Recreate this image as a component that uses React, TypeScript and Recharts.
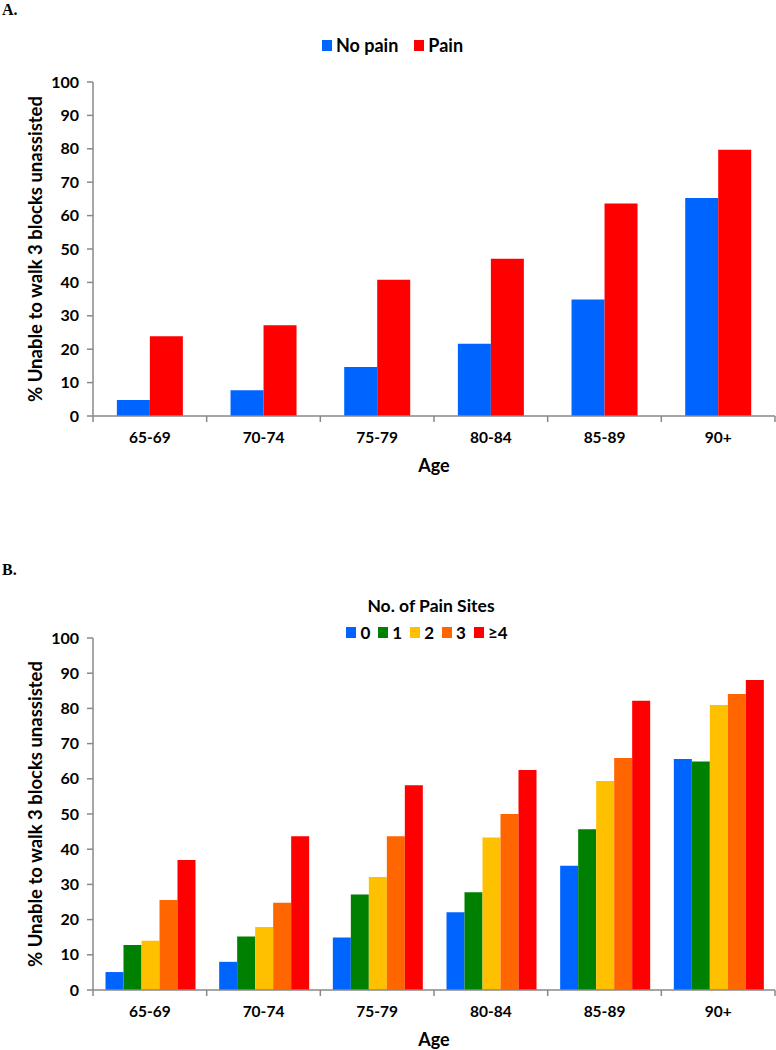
import React from "react";
import { BarChart, Bar, XAxis, YAxis, Legend } from "recharts";

// ── Data ────────────────────────────────────────────────────────────
const AGES = ["65-69", "70-74", "75-79", "80-84", "85-89", "90+"];
const Y_TICKS = [0, 10, 20, 30, 40, 50, 60, 70, 80, 90, 100];

// Panel A
const NO_PAIN = [4.8, 7.7, 14.7, 21.6, 34.9, 65.3];
const PAIN = [23.9, 27.2, 40.8, 47.1, 63.6, 79.7];

// Panel B – number of pain sites
const SITES_0 = [5.1, 8.0, 14.9, 22.1, 35.3, 65.6];
const SITES_1 = [12.8, 15.2, 27.1, 27.8, 45.7, 64.9];
const SITES_2 = [14.0, 17.9, 32.1, 43.3, 59.4, 81.0];
const SITES_3 = [25.6, 24.8, 43.7, 50.0, 65.9, 84.1];
const SITES_4 = [36.9, 43.7, 58.2, 62.5, 82.2, 88.1];

const BLUE = "#0064ff";
const RED = "#ff0000";
const GREEN = "#008000";
const YELLOW = "#ffc000";
const ORANGE = "#ff6600";

const FONT = "Lato, 'Open Sans', sans-serif";
const AXIS_GREY = "#888888";
const Y_LABEL = "% Unable to walk 3 blocks unassisted";

const dataA = AGES.map((age, i) => ({ age, noPain: NO_PAIN[i], pain: PAIN[i] }));
const dataB = AGES.map((age, i) => ({
  age,
  s0: SITES_0[i],
  s1: SITES_1[i],
  s2: SITES_2[i],
  s3: SITES_3[i],
  s4: SITES_4[i],
}));

// layout shared by both panels
const WIDTH = 776;
const MARGIN_LEFT = -23;
const Y_AXIS_W = 116;
const MARGIN_RIGHT = 1;
const BAND = (WIDTH - MARGIN_LEFT - Y_AXIS_W - MARGIN_RIGHT) / AGES.length;

// Category tick: label at the band centre, tick marks at band edges (Excel style)
function AgeTick(props: any) {
  const { x, y, payload, index } = props;
  const last = index === AGES.length - 1;
  return (
    <g>
      <line x1={x - BAND / 2} x2={x - BAND / 2} y1={y} y2={y + 6} stroke={AXIS_GREY} strokeWidth={1.5} />
      {last && (
        <line x1={x + BAND / 2} x2={x + BAND / 2} y1={y} y2={y + 6} stroke={AXIS_GREY} strokeWidth={1.5} />
      )}
      <text x={x} y={y + 27} textAnchor="middle" fill="#000" fontFamily={FONT} fontWeight={700} fontSize={15.5}>
        {payload.value}
      </text>
    </g>
  );
}

const yTick = { fill: "#000", fontFamily: FONT, fontWeight: 700, fontSize: 16 };
const yLabel = {
  value: Y_LABEL,
  angle: -90,
  position: "center" as const,
  fill: "#000",
  fontFamily: FONT,
  fontWeight: 700,
  fontSize: 18.5,
};
const ageLabel = {
  value: "Age",
  position: "insideBottom" as const,
  offset: 4,
  fill: "#000",
  fontFamily: FONT,
  fontWeight: 700,
  fontSize: 18,
};

function swatchRow(payload: any[], size: number, gap: number, fontSize: number) {
  return (
    <div style={{ display: "flex", justifyContent: "center", alignItems: "center" }}>
      {payload.map((p: any) => (
        <span key={p.value} style={{ display: "inline-flex", alignItems: "center", marginRight: gap }}>
          <span style={{ width: size, height: size + 1, background: p.color, display: "inline-block", marginRight: 4 }} />
          <span style={{ fontSize, fontWeight: 700, color: "#000", fontFamily: FONT }}>{p.value}</span>
        </span>
      ))}
    </div>
  );
}

function LegendA(props: any) {
  return <div style={{ height: 24 }}>{swatchRow(props.payload || [], 10, 16, 18)}</div>;
}

function LegendB(props: any) {
  return (
    <div style={{ textAlign: "center", fontFamily: FONT }}>
      <div style={{ fontSize: 17.5, fontWeight: 700, color: "#000", lineHeight: "20px", marginBottom: 6 }}>
        No. of Pain Sites
      </div>
      {swatchRow(props.payload || [], 10, 8, 17)}
    </div>
  );
}

export default function App() {
  return (
    <div style={{ position: "absolute", left: 0, top: 0, width: WIDTH, height: 1050, background: "#fff" }}>
      <div style={{ position: "absolute", left: 2, top: 1, fontFamily: "'Liberation Serif', serif", fontWeight: 700, fontSize: 16 }}>
        A.
      </div>
      <div style={{ position: "absolute", left: 2, top: 561, fontFamily: "'Liberation Serif', serif", fontWeight: 700, fontSize: 16 }}>
        B.
      </div>

      {/* Panel A */}
      <div style={{ position: "absolute", left: 0, top: 0 }}>
        <BarChart
          width={WIDTH}
          height={500}
          data={dataA}
          margin={{ top: 82, right: MARGIN_RIGHT, bottom: 24, left: MARGIN_LEFT }}
          barCategoryGap="21%"
          barGap={0}
        >
          <XAxis
            dataKey="age"
            height={60}
            tickLine={false}
            tickSize={0}
            tickMargin={0}
            interval={0}
            tick={<AgeTick />}
            axisLine={{ stroke: AXIS_GREY, strokeWidth: 1.5 }}
            label={ageLabel}
          />
          <YAxis
            width={Y_AXIS_W}
            domain={[0, 100]}
            ticks={Y_TICKS}
            interval={0}
            tickSize={6}
            tickMargin={8}
            tick={yTick}
            tickLine={{ stroke: AXIS_GREY, strokeWidth: 1.5 }}
            axisLine={{ stroke: AXIS_GREY, strokeWidth: 1.5 }}
            label={yLabel}
          />
          <Legend
            layout="horizontal"
            verticalAlign="middle"
            align="center"
            content={<LegendA />}
            wrapperStyle={{ top: 34, left: 25, width: 751 }}
          />
          <Bar dataKey="noPain" name="No pain" fill={BLUE} isAnimationActive={false} />
          <Bar dataKey="pain" name="Pain" fill={RED} isAnimationActive={false} />
        </BarChart>
      </div>

      {/* Panel B */}
      <div style={{ position: "absolute", left: 0, top: 500 }}>
        <BarChart
          width={WIDTH}
          height={550}
          data={dataB}
          margin={{ top: 138, right: MARGIN_RIGHT, bottom: 0, left: MARGIN_LEFT }}
          barCategoryGap="11%"
          barGap={0}
        >
          <XAxis
            dataKey="age"
            height={60}
            tickLine={false}
            tickSize={0}
            tickMargin={0}
            interval={0}
            tick={<AgeTick />}
            axisLine={{ stroke: AXIS_GREY, strokeWidth: 1.5 }}
            label={ageLabel}
          />
          <YAxis
            width={Y_AXIS_W}
            domain={[0, 100]}
            ticks={Y_TICKS}
            interval={0}
            tickSize={6}
            tickMargin={8}
            tick={yTick}
            tickLine={{ stroke: AXIS_GREY, strokeWidth: 1.5 }}
            axisLine={{ stroke: AXIS_GREY, strokeWidth: 1.5 }}
            label={yLabel}
          />
          <Legend
            layout="horizontal"
            verticalAlign="middle"
            align="center"
            content={<LegendB />}
            wrapperStyle={{ top: 96, left: 100, width: 662 }}
          />
          <Bar dataKey="s0" name="0" fill={BLUE} isAnimationActive={false} />
          <Bar dataKey="s1" name="1" fill={GREEN} isAnimationActive={false} />
          <Bar dataKey="s2" name="2" fill={YELLOW} isAnimationActive={false} />
          <Bar dataKey="s3" name="3" fill={ORANGE} isAnimationActive={false} />
          <Bar dataKey="s4" name="≥4" fill={RED} isAnimationActive={false} />
        </BarChart>
      </div>
    </div>
  );
}
